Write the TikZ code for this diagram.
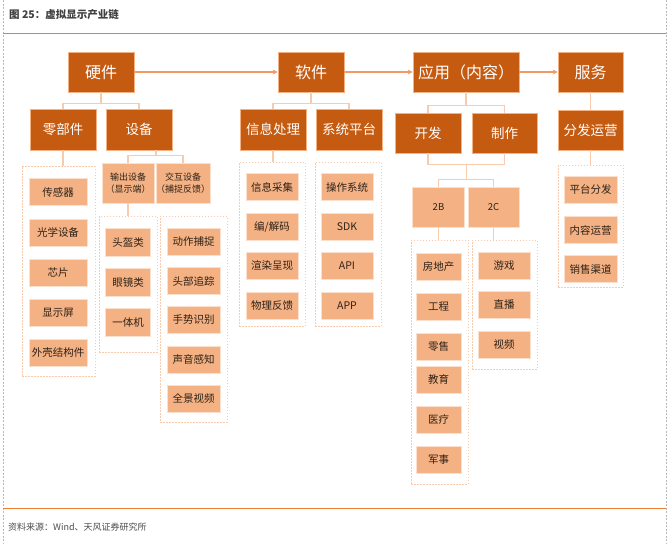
\documentclass[tikz,border=0pt]{standalone}
\usepackage{fontspec}
\setmainfont{Noto Sans CJK SC}
\usetikzlibrary{calc,arrows.meta}
\definecolor{dkor}{HTML}{C55A11}
\definecolor{ltor}{HTML}{F4B183}
\definecolor{paleor}{HTML}{F8CBAD}
\definecolor{arrc}{HTML}{F19A68}
\definecolor{rule}{HTML}{ED7D31}
\definecolor{txtd}{HTML}{2E2218}
\begin{document}
\begin{tikzpicture}[x=1pt,y=-1pt,
  topbox/.style={rectangle,fill=dkor,draw=ltor,line width=0.6pt,text=white,inner sep=0pt,
     minimum width=66pt,minimum height=40pt,font=\fontsize{16}{18}\selectfont},
  midbox/.style={topbox,minimum height=41pt,font=\fontsize{13.5}{16}\selectfont},
  itembox/.style={rectangle,fill=ltor,draw=paleor!60!white,line width=0.5pt,text=txtd,inner sep=0pt,
     minimum height=27pt,font=\fontsize{10.5}{12}\selectfont},
  subbox/.style={itembox,minimum height=40pt,font=\fontsize{9}{12}\selectfont,align=center},
  grp/.style={rectangle,draw=paleor,line width=0.8pt,dash pattern=on 1.5pt off 1.5pt,inner sep=0pt},
  conn/.style={draw=paleor,line width=1.2pt},
  arr/.style={draw=arrc,line width=1.8pt,-{Stealth[length=5pt,width=5pt]}},
  frame/.style={draw=gray!55,line width=0.6pt,dash pattern=on 2pt off 1.5pt},
  orrule/.style={draw=rule,line width=1pt}
]
\useasboundingbox (0,0) rectangle (670,544);
\fill[white] (0,0) rectangle (670,544);
% frame
\coordinate (fl1) at (3,0); \coordinate (fl2) at (3,544);
\coordinate (fr1) at (666,0); \coordinate (fr2) at (666,544);
\draw[frame] (fl1) -- (fl2);
\draw[frame] (fr1) -- (fr2);
\coordinate (rt1) at (3,33); \coordinate (rt2) at (666,33);
\coordinate (rb1) at (3,508); \coordinate (rb2) at (666,508);
\draw[orrule] (rt1) -- (rt2);
\draw[orrule] (rb1) -- (rb2);
\node[anchor=west,inner sep=0pt,text=black!75,font=\bfseries\fontsize{10.5}{12}\selectfont] (title) at (9,15) {图 25：虚拟显示产业链};
\node[anchor=west,inner sep=0pt,text=black!70,font=\fontsize{9}{11}\selectfont] (src) at (8,527) {资料来源：Wind、天风证券研究所};

% top level
\node[topbox] (hw) at (101,72) {硬件};
\node[topbox] (sw) at (311,72) {软件};
\node[topbox,minimum width=106pt] (app) at (466,72) {应用（内容）};
\node[topbox,minimum width=65pt] (svc) at (590.5,72) {服务};
\draw[arr] (hw.east) -- (sw.west);
\draw[arr] (sw.east) -- (app.west);
\draw[arr] (app.east) -- (svc.west);

% second level
\node[midbox] (parts) at (63,129.5) {零部件};
\node[midbox] (dev) at (139,129.5) {设备};
\node[midbox] (info) at (273,129.5) {信息处理};
\node[midbox] (sys) at (349,129.5) {系统平台};
\node[midbox,minimum height=40pt] (kf) at (428,133) {开发};
\node[midbox,minimum height=40pt,minimum width=65pt] (zz) at (504.5,133) {制作};
\node[midbox,minimum height=40pt,minimum width=65pt] (ff) at (590.5,130) {分发运营};

\draw[conn] (hw.south) -- ++(0,11) -| (parts.north);
\draw[conn] (hw.south) -- ++(0,11) -| (dev.north);
\draw[conn] (sw.south) -- ++(0,11) -| (info.north);
\draw[conn] (sw.south) -- ++(0,11) -| (sys.north);
\draw[conn] (app.south) -- ++(0,13) -| (kf.north);
\draw[conn] (app.south) -- ++(0,13) -| (zz.north);
\draw[conn] (svc.south) -- (ff.north);

% device sub level
\node[subbox,minimum width=52pt] (out) at (128,183) {输出设备\\（显示端）};
\node[subbox,minimum width=52pt] (inter) at (183,183) {交互设备\\（捕捉反馈）};
\draw[conn] ([xshift=17pt]dev.south) -- ++(0,5) -| (out.north);
\draw[conn] ([xshift=17pt]dev.south) -- ++(0,5) -| (inter.north);

% 2B / 2C
\node[subbox,minimum width=52pt,font=\fontsize{9.5}{12}\selectfont] (b2) at (438.5,207.5) {2B};
\node[subbox,minimum width=51pt,font=\fontsize{9.5}{12}\selectfont] (c2) at (493.5,207.5) {2C};
\coordinate (m1) at ($(kf.south)!0.5!(zz.south)+(0,11)$);
\coordinate (m2) at ($(m1)+(0,15)$);
\draw[conn] (kf.south) -- ++(0,11) -| (zz.south);
\draw[conn] (m1) -- (m2);
\draw[conn] (m2) -| (b2.north);
\draw[conn] (m2) -| (c2.north);

% groups
\node[grp,minimum width=73pt,minimum height=210pt] (gparts) at (58.5,271) {};
\node[grp,minimum width=58pt,minimum height=136pt] (gout) at (128,284) {};
\node[grp,minimum width=67pt,minimum height=206pt] (ginter) at (193.5,319) {};
\node[grp,minimum width=66pt,minimum height=164pt] (ginfo) at (272,244) {};
\node[grp,minimum width=66pt,minimum height=164pt] (gsys) at (348,244) {};
\node[grp,minimum width=57pt,minimum height=244pt] (gb2) at (439.5,362) {};
\node[grp,minimum width=65pt,minimum height=129pt] (gc2) at (504.5,304.5) {};
\node[grp,minimum width=65pt,minimum height=122pt] (gsvc) at (590.5,226) {};

\draw[conn] (parts.south) -- (parts.south |- gparts.north);
\draw[conn] (out.south) -- (out.south |- gout.north);
\draw[conn] (info.south) -- (info.south |- ginfo.north);
\draw[conn] (b2.south) -- (b2.south |- gb2.north);
\draw[conn] (c2.south) -- (c2.south |- gc2.north);
\draw[conn] (ff.south) -- (ff.south |- gsvc.north);

% parts items
\foreach \t/\y [count=\i] in {传感器/192,光学设备/232.5,芯片/272.5,显示屏/312.5,外壳结构件/352.5}
  \node[itembox,minimum width=58pt] (p\i) at (58,\y) {\t};
% output items
\foreach \t/\y [count=\i] in {头盔类/242,眼镜类/282,一体机/322.5}
  \node[itembox,minimum width=45pt,minimum height=28pt] (o\i) at (128,\y) {\t};
% interaction items
\foreach \t/\y [count=\i] in {动作捕捉/242,头部追踪/281,手势识别/320,声音感知/359.5,全景视频/398.5}
  \node[itembox,minimum width=53pt] (x\i) at (193.5,\y) {\t};
% info items
\node[itembox,minimum width=52pt] (i1) at (272,187) {信息采集};
\node[itembox,minimum width=52pt] (i2) at (272,226.5) {编/解码};
\node[itembox,minimum width=52pt] (i3) at (272,266) {渲染呈现};
\node[itembox,minimum width=52pt] (i4) at (272,305.5) {物理反馈};
% system items
\foreach \t/\y [count=\i] in {操作系统/187,SDK/226.5,API/266,APP/305.5}
  \node[itembox,minimum width=52pt] (s\i) at (347,\y) {\t};
% 2B items
\foreach \t/\y [count=\i] in {房地产/266.5,工程/306.5,零售/346.5,教育/379.5,医疗/419.5,军事/459.5}
  \node[itembox,minimum width=45pt] (bb\i) at (438.5,\y) {\t};
% 2C items
\foreach \t/\y [count=\i] in {游戏/266,直播/305,视频/345}
  \node[itembox,minimum width=52pt] (cc\i) at (504,\y) {\t};
% service items
\foreach \t/\y [count=\i] in {平台分发/190,内容运营/230,销售渠道/269}
  \node[itembox,minimum width=53pt] (v\i) at (590.5,\y) {\t};
\end{tikzpicture}
\end{document}
